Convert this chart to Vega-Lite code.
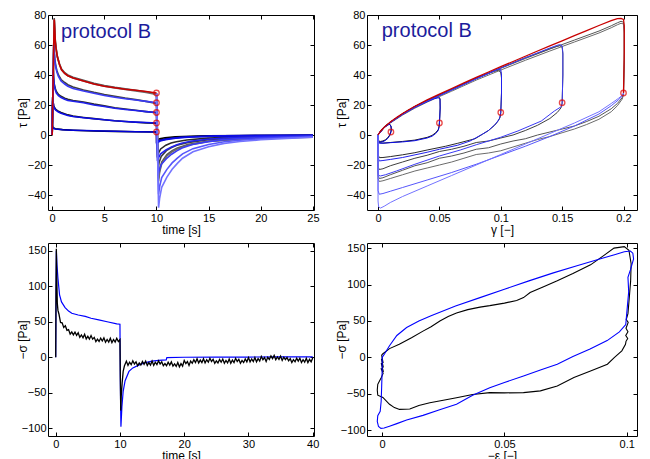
{
"$schema": "https://vega.github.io/schema/vega-lite/v6.json",
"background": "#ffffff",
"padding": {"left": 15, "top": 8, "right": 0, "bottom": 0},
"columns": 2,
"align": "each",
"spacing": {"row": 5, "column": 14},
"config": {
  "view": {"stroke": "#000000", "strokeWidth": 1},
  "axis": {"domain": false, "grid": false, "ticks": true, "tickSize": -4, "tickColor": "#000000", "tickWidth": 1, "labelPadding": 6, "labelFont": "Liberation Sans", "labelFontSize": 11, "labelColor": "#000000", "titleFont": "Liberation Sans", "titleFontSize": 12, "titleFontWeight": "normal", "titleColor": "#000000", "labelFlush": false, "labelOverlap": false},
  "axisX": {"minExtent": 13, "maxExtent": 13, "titlePadding": 1},
  "axisY": {"minExtent": 17, "maxExtent": 17, "titlePadding": 2},
  "point": {"filled": false, "shape": "circle"}
},
"datasets": {
"tl": [
{"s":"d0.01","x":0,"y":0},{"s":"d0.01","x":0.01,"y":6.5},{"s":"d0.01","x":0.05,"y":5.3},{"s":"d0.01","x":0.1,"y":4.8},{"s":"d0.01","x":0.3,"y":4.2},{"s":"d0.01","x":1,"y":3.6},{"s":"d0.01","x":2,"y":3.2},{"s":"d0.01","x":4,"y":2.7},{"s":"d0.01","x":6,"y":2.4},{"s":"d0.01","x":8,"y":2.2},{"s":"d0.01","x":10,"y":2},{"s":"d0.01","x":10.01,"y":-4},{"s":"d0.01","x":10.11,"y":-3.2},{"s":"d0.01","x":10.31,"y":-2.5},{"s":"d0.01","x":10.81,"y":-1.8},{"s":"d0.01","x":11.81,"y":-1.2},{"s":"d0.01","x":14.81,"y":-0.6},{"s":"d0.01","x":19.81,"y":-0.3},{"s":"d0.01","x":25,"y":-0.2},
{"s":"d0.05","x":0,"y":0},{"s":"d0.05","x":0.025,"y":13},{"s":"d0.05","x":0.05,"y":25.5},{"s":"d0.05","x":0.1,"y":21.5},{"s":"d0.05","x":0.15,"y":19.5},{"s":"d0.05","x":0.25,"y":18},{"s":"d0.05","x":0.35,"y":17},{"s":"d0.05","x":0.6,"y":15.8},{"s":"d0.05","x":0.85,"y":15},{"s":"d0.05","x":1.5,"y":13.4},{"s":"d0.05","x":2,"y":12.6},{"s":"d0.05","x":3,"y":11.7},{"s":"d0.05","x":4,"y":10.9},{"s":"d0.05","x":5,"y":10.2},{"s":"d0.05","x":6,"y":9.5},{"s":"d0.05","x":7,"y":9},{"s":"d0.05","x":8,"y":8.5},{"s":"d0.05","x":9,"y":8.1},{"s":"d0.05","x":10,"y":7.8},{"s":"d0.05","x":10.05,"y":-5.5},{"s":"d0.05","x":10.15,"y":-4.4},{"s":"d0.05","x":10.35,"y":-3.4},{"s":"d0.05","x":10.85,"y":-2.5},{"s":"d0.05","x":11.35,"y":-2},{"s":"d0.05","x":11.85,"y":-1.65},{"s":"d0.05","x":12.85,"y":-1.2},{"s":"d0.05","x":14.85,"y":-0.8},{"s":"d0.05","x":17.85,"y":-0.5},{"s":"d0.05","x":21.85,"y":-0.33},{"s":"d0.05","x":25,"y":-0.25},
{"s":"d0.1","x":0,"y":0},{"s":"d0.1","x":0.05,"y":22},{"s":"d0.1","x":0.1,"y":44},{"s":"d0.1","x":0.15,"y":38},{"s":"d0.1","x":0.2,"y":34},{"s":"d0.1","x":0.3,"y":31},{"s":"d0.1","x":0.4,"y":29},{"s":"d0.1","x":0.6,"y":27},{"s":"d0.1","x":0.85,"y":25.8},{"s":"d0.1","x":1.2,"y":24.5},{"s":"d0.1","x":1.5,"y":23.8},{"s":"d0.1","x":2,"y":23},{"s":"d0.1","x":3,"y":22},{"s":"d0.1","x":4,"y":20.6},{"s":"d0.1","x":5,"y":19.4},{"s":"d0.1","x":6,"y":18.2},{"s":"d0.1","x":7,"y":17.3},{"s":"d0.1","x":8,"y":16.5},{"s":"d0.1","x":9,"y":15.6},{"s":"d0.1","x":10,"y":14.8},{"s":"d0.1","x":10.05,"y":0},{"s":"d0.1","x":10.1,"y":-15},{"s":"d0.1","x":10.2,"y":-12},{"s":"d0.1","x":10.4,"y":-9.3},{"s":"d0.1","x":10.9,"y":-6.8},{"s":"d0.1","x":11.4,"y":-5.4},{"s":"d0.1","x":11.9,"y":-4.5},{"s":"d0.1","x":12.9,"y":-3.3},{"s":"d0.1","x":14.9,"y":-2.1},{"s":"d0.1","x":17.9,"y":-1.35},{"s":"d0.1","x":21.9,"y":-0.9},{"s":"d0.1","x":25,"y":-0.7},
{"s":"d0.15","x":0,"y":0},{"s":"d0.15","x":0.075,"y":30},{"s":"d0.15","x":0.15,"y":61},{"s":"d0.15","x":0.2,"y":56},{"s":"d0.15","x":0.25,"y":51},{"s":"d0.15","x":0.35,"y":46},{"s":"d0.15","x":0.45,"y":43},{"s":"d0.15","x":0.6,"y":40},{"s":"d0.15","x":0.85,"y":37},{"s":"d0.15","x":1.2,"y":35},{"s":"d0.15","x":1.5,"y":33.5},{"s":"d0.15","x":2,"y":32},{"s":"d0.15","x":3,"y":30},{"s":"d0.15","x":4,"y":28.4},{"s":"d0.15","x":5,"y":27},{"s":"d0.15","x":6,"y":25.8},{"s":"d0.15","x":7,"y":24.6},{"s":"d0.15","x":8,"y":23.6},{"s":"d0.15","x":9,"y":22.4},{"s":"d0.15","x":10,"y":21},{"s":"d0.15","x":10.075,"y":-1},{"s":"d0.15","x":10.15,"y":-23},{"s":"d0.15","x":10.25,"y":-18.4},{"s":"d0.15","x":10.45,"y":-14.3},{"s":"d0.15","x":10.95,"y":-10.4},{"s":"d0.15","x":11.45,"y":-8.3},{"s":"d0.15","x":11.95,"y":-6.9},{"s":"d0.15","x":12.95,"y":-5.1},{"s":"d0.15","x":14.95,"y":-3.2},{"s":"d0.15","x":17.95,"y":-2.1},{"s":"d0.15","x":21.95,"y":-1.4},{"s":"d0.15","x":25,"y":-1},
{"s":"d0.2","x":0,"y":0},{"s":"d0.2","x":0.1,"y":39},{"s":"d0.2","x":0.2,"y":78},{"s":"d0.2","x":0.25,"y":71},{"s":"d0.2","x":0.3,"y":63},{"s":"d0.2","x":0.4,"y":57},{"s":"d0.2","x":0.5,"y":52.5},{"s":"d0.2","x":0.7,"y":47.5},{"s":"d0.2","x":0.9,"y":44},{"s":"d0.2","x":1.2,"y":41.5},{"s":"d0.2","x":1.5,"y":40},{"s":"d0.2","x":2,"y":38.5},{"s":"d0.2","x":3,"y":36.5},{"s":"d0.2","x":4,"y":34.5},{"s":"d0.2","x":5,"y":33},{"s":"d0.2","x":6,"y":31.8},{"s":"d0.2","x":7,"y":30.8},{"s":"d0.2","x":8,"y":29.8},{"s":"d0.2","x":9,"y":28.8},{"s":"d0.2","x":10,"y":27.5},{"s":"d0.2","x":10.1,"y":0},{"s":"d0.2","x":10.2,"y":-29},{"s":"d0.2","x":10.3,"y":-23.2},{"s":"d0.2","x":10.5,"y":-18},{"s":"d0.2","x":11,"y":-13},{"s":"d0.2","x":11.5,"y":-10.4},{"s":"d0.2","x":12,"y":-8.7},{"s":"d0.2","x":13,"y":-6.4},{"s":"d0.2","x":15,"y":-4.1},{"s":"d0.2","x":18,"y":-2.6},{"s":"d0.2","x":22,"y":-1.7},{"s":"d0.2","x":25,"y":-1.3},
{"s":"d0.2b","x":0,"y":0},{"s":"d0.2b","x":0.1,"y":38.5},{"s":"d0.2b","x":0.2,"y":77},{"s":"d0.2b","x":0.25,"y":70},{"s":"d0.2b","x":0.3,"y":62.5},{"s":"d0.2b","x":0.4,"y":56.5},{"s":"d0.2b","x":0.5,"y":52},{"s":"d0.2b","x":0.7,"y":47},{"s":"d0.2b","x":0.9,"y":43.5},{"s":"d0.2b","x":1.2,"y":41},{"s":"d0.2b","x":1.5,"y":39.5},{"s":"d0.2b","x":2,"y":38},{"s":"d0.2b","x":3,"y":36},{"s":"d0.2b","x":4,"y":34},{"s":"d0.2b","x":5,"y":32.6},{"s":"d0.2b","x":6,"y":31.4},{"s":"d0.2b","x":7,"y":30.4},{"s":"d0.2b","x":8,"y":29.4},{"s":"d0.2b","x":9,"y":28.4},{"s":"d0.2b","x":10,"y":27},{"s":"d0.2b","x":10.1,"y":-1},{"s":"d0.2b","x":10.2,"y":-31},{"s":"d0.2b","x":10.3,"y":-24.8},{"s":"d0.2b","x":10.5,"y":-19.2},{"s":"d0.2b","x":11,"y":-14},{"s":"d0.2b","x":11.5,"y":-11.2},{"s":"d0.2b","x":12,"y":-9.3},{"s":"d0.2b","x":13,"y":-6.8},{"s":"d0.2b","x":15,"y":-4.3},{"s":"d0.2b","x":18,"y":-2.8},{"s":"d0.2b","x":22,"y":-1.9},{"s":"d0.2b","x":25,"y":-1.4},
{"s":"m0.01","x":0,"y":0},{"s":"m0.01","x":0.01,"y":6},{"s":"m0.01","x":0.05,"y":5},{"s":"m0.01","x":0.1,"y":4.5},{"s":"m0.01","x":0.3,"y":4},{"s":"m0.01","x":1,"y":3.5},{"s":"m0.01","x":2,"y":3.2},{"s":"m0.01","x":4,"y":2.8},{"s":"m0.01","x":6,"y":2.5},{"s":"m0.01","x":8,"y":2.2},{"s":"m0.01","x":10,"y":2},{"s":"m0.01","x":10.01,"y":-5},{"s":"m0.01","x":10.11,"y":-4.35},{"s":"m0.01","x":10.31,"y":-3.6},{"s":"m0.01","x":10.81,"y":-2.9},{"s":"m0.01","x":11.31,"y":-2.35},{"s":"m0.01","x":11.81,"y":-1.95},{"s":"m0.01","x":12.31,"y":-1.6},{"s":"m0.01","x":13.31,"y":-1.15},{"s":"m0.01","x":14.81,"y":-0.8},{"s":"m0.01","x":16.31,"y":-0.6},{"s":"m0.01","x":19.81,"y":-0.33},{"s":"m0.01","x":25,"y":-0.15},
{"s":"m0.05","x":0,"y":0},{"s":"m0.05","x":0.025,"y":13},{"s":"m0.05","x":0.05,"y":25},{"s":"m0.05","x":0.1,"y":21},{"s":"m0.05","x":0.15,"y":19},{"s":"m0.05","x":0.25,"y":17.5},{"s":"m0.05","x":0.35,"y":16.5},{"s":"m0.05","x":0.6,"y":15.3},{"s":"m0.05","x":0.85,"y":14.5},{"s":"m0.05","x":1.5,"y":13},{"s":"m0.05","x":2,"y":12.3},{"s":"m0.05","x":3,"y":11.5},{"s":"m0.05","x":4,"y":10.8},{"s":"m0.05","x":5,"y":10.2},{"s":"m0.05","x":6,"y":9.5},{"s":"m0.05","x":7,"y":9},{"s":"m0.05","x":8,"y":8.6},{"s":"m0.05","x":9,"y":8.3},{"s":"m0.05","x":10,"y":8},{"s":"m0.05","x":10.05,"y":-5.5},{"s":"m0.05","x":10.15,"y":-4.8},{"s":"m0.05","x":10.35,"y":-4},{"s":"m0.05","x":10.85,"y":-3.2},{"s":"m0.05","x":11.35,"y":-2.6},{"s":"m0.05","x":11.85,"y":-2.1},{"s":"m0.05","x":12.35,"y":-1.8},{"s":"m0.05","x":13.35,"y":-1.3},{"s":"m0.05","x":14.85,"y":-0.9},{"s":"m0.05","x":16.35,"y":-0.6},{"s":"m0.05","x":19.85,"y":-0.36},{"s":"m0.05","x":25,"y":-0.2},
{"s":"m0.1","x":0,"y":0},{"s":"m0.1","x":0.05,"y":22},{"s":"m0.1","x":0.1,"y":43},{"s":"m0.1","x":0.15,"y":37},{"s":"m0.1","x":0.2,"y":33},{"s":"m0.1","x":0.3,"y":30},{"s":"m0.1","x":0.4,"y":28},{"s":"m0.1","x":0.6,"y":26.2},{"s":"m0.1","x":0.85,"y":25},{"s":"m0.1","x":1.2,"y":23.8},{"s":"m0.1","x":1.5,"y":23},{"s":"m0.1","x":2,"y":22.5},{"s":"m0.1","x":3,"y":21.5},{"s":"m0.1","x":4,"y":20},{"s":"m0.1","x":5,"y":19},{"s":"m0.1","x":6,"y":17.8},{"s":"m0.1","x":7,"y":17},{"s":"m0.1","x":8,"y":16.3},{"s":"m0.1","x":9,"y":15.6},{"s":"m0.1","x":10,"y":15},{"s":"m0.1","x":10.05,"y":-1},{"s":"m0.1","x":10.1,"y":-17.3},{"s":"m0.1","x":10.2,"y":-15.1},{"s":"m0.1","x":10.4,"y":-12.5},{"s":"m0.1","x":10.9,"y":-10},{"s":"m0.1","x":11.4,"y":-8.1},{"s":"m0.1","x":11.9,"y":-6.7},{"s":"m0.1","x":12.4,"y":-5.5},{"s":"m0.1","x":13.4,"y":-4},{"s":"m0.1","x":14.9,"y":-2.8},{"s":"m0.1","x":16.4,"y":-2},{"s":"m0.1","x":17.9,"y":-1.5},{"s":"m0.1","x":19.9,"y":-1.1},{"s":"m0.1","x":21.9,"y":-0.9},{"s":"m0.1","x":25,"y":-0.5},
{"s":"m0.15","x":0,"y":0},{"s":"m0.15","x":0.075,"y":30},{"s":"m0.15","x":0.15,"y":60},{"s":"m0.15","x":0.2,"y":55},{"s":"m0.15","x":0.25,"y":50},{"s":"m0.15","x":0.35,"y":45},{"s":"m0.15","x":0.45,"y":42},{"s":"m0.15","x":0.6,"y":39},{"s":"m0.15","x":0.85,"y":36},{"s":"m0.15","x":1.2,"y":34},{"s":"m0.15","x":1.5,"y":32.5},{"s":"m0.15","x":2,"y":31},{"s":"m0.15","x":3,"y":29.3},{"s":"m0.15","x":4,"y":27.8},{"s":"m0.15","x":5,"y":26.3},{"s":"m0.15","x":6,"y":25.2},{"s":"m0.15","x":7,"y":24.2},{"s":"m0.15","x":8,"y":23.3},{"s":"m0.15","x":9,"y":22.4},{"s":"m0.15","x":10,"y":21.5},{"s":"m0.15","x":10.075,"y":-3},{"s":"m0.15","x":10.15,"y":-27.3},{"s":"m0.15","x":10.25,"y":-23.8},{"s":"m0.15","x":10.45,"y":-19.7},{"s":"m0.15","x":10.95,"y":-15.8},{"s":"m0.15","x":11.45,"y":-12.8},{"s":"m0.15","x":11.95,"y":-10.6},{"s":"m0.15","x":12.45,"y":-8.7},{"s":"m0.15","x":13.45,"y":-6.3},{"s":"m0.15","x":14.95,"y":-4.4},{"s":"m0.15","x":16.45,"y":-3.1},{"s":"m0.15","x":17.95,"y":-2.4},{"s":"m0.15","x":19.95,"y":-1.8},{"s":"m0.15","x":21.95,"y":-1.4},{"s":"m0.15","x":25,"y":-0.8},
{"s":"m0.2b","x":10,"y":28},{"s":"m0.2b","x":10.1,"y":-6},{"s":"m0.2b","x":10.2,"y":-39.5},{"s":"m0.2b","x":10.3,"y":-34.4},{"s":"m0.2b","x":10.5,"y":-28.4},{"s":"m0.2b","x":11,"y":-22.9},{"s":"m0.2b","x":11.5,"y":-18.6},{"s":"m0.2b","x":12,"y":-15.4},{"s":"m0.2b","x":12.5,"y":-12.6},{"s":"m0.2b","x":13.5,"y":-9.1},{"s":"m0.2b","x":15,"y":-6.3},{"s":"m0.2b","x":16.5,"y":-4.5},{"s":"m0.2b","x":18,"y":-3.5},{"s":"m0.2b","x":20,"y":-2.6},{"s":"m0.2b","x":22,"y":-2},{"s":"m0.2b","x":25,"y":-1.2},
{"s":"m0.2","x":10,"y":28},{"s":"m0.2","x":10.1,"y":-10},{"s":"m0.2","x":10.2,"y":-48.5},{"s":"m0.2","x":10.3,"y":-42.2},{"s":"m0.2","x":10.5,"y":-34.9},{"s":"m0.2","x":11,"y":-28.1},{"s":"m0.2","x":11.5,"y":-22.8},{"s":"m0.2","x":12,"y":-18.9},{"s":"m0.2","x":12.5,"y":-15.5},{"s":"m0.2","x":13.5,"y":-11.2},{"s":"m0.2","x":15,"y":-7.8},{"s":"m0.2","x":16.5,"y":-5.6},{"s":"m0.2","x":18,"y":-4.3},{"s":"m0.2","x":20,"y":-3.2},{"s":"m0.2","x":22,"y":-2.4},{"s":"m0.2","x":25,"y":-1.5},
{"s":"red","x":0,"y":0},{"s":"red","x":0.05,"y":20},{"s":"red","x":0.1,"y":40},{"s":"red","x":0.15,"y":60},{"s":"red","x":0.2,"y":77},{"s":"red","x":0.25,"y":70},{"s":"red","x":0.3,"y":62},{"s":"red","x":0.4,"y":56},{"s":"red","x":0.5,"y":52},{"s":"red","x":0.7,"y":47},{"s":"red","x":0.9,"y":43.5},{"s":"red","x":1.2,"y":41},{"s":"red","x":1.5,"y":39.5},{"s":"red","x":2,"y":38},{"s":"red","x":2.5,"y":37},{"s":"red","x":3,"y":36},{"s":"red","x":4,"y":34},{"s":"red","x":5,"y":32.5},{"s":"red","x":6,"y":31.5},{"s":"red","x":7,"y":30.5},{"s":"red","x":8,"y":29.8},{"s":"red","x":9,"y":29},{"s":"red","x":10,"y":28}
],
"tlc": [{"x":10,"y":2},{"x":10,"y":8},{"x":10,"y":15},{"x":10,"y":21.5},{"x":10,"y":28}],
"tr": [
{"s":"d0.01","x":0,"y":0},{"s":"d0.01","x":0.002,"y":2.8},{"s":"d0.01","x":0.005,"y":5.3},{"s":"d0.01","x":0.008,"y":7},{"s":"d0.01","x":0.0095,"y":7.2},{"s":"d0.01","x":0.0105,"y":6},{"s":"d0.01","x":0.0108,"y":4},{"s":"d0.01","x":0.0105,"y":2.2},{"s":"d0.01","x":0.0095,"y":0},{"s":"d0.01","x":0.008,"y":-1.8},{"s":"d0.01","x":0.006,"y":-3.2},{"s":"d0.01","x":0.004,"y":-4},{"s":"d0.01","x":0.002,"y":-4.3},{"s":"d0.01","x":0.0005,"y":-4},{"s":"d0.01","x":0,"y":-3},{"s":"d0.01","x":0,"y":0},
{"s":"d0.05","x":0,"y":0},{"s":"d0.05","x":0.005,"y":5.3},{"s":"d0.05","x":0.01,"y":8.6},{"s":"d0.05","x":0.02,"y":14.2},{"s":"d0.05","x":0.03,"y":19},{"s":"d0.05","x":0.04,"y":22.8},{"s":"d0.05","x":0.046,"y":25},{"s":"d0.05","x":0.049,"y":25.5},{"s":"d0.05","x":0.0505,"y":24.5},{"s":"d0.05","x":0.0506,"y":18},{"s":"d0.05","x":0.0503,"y":12},{"s":"d0.05","x":0.05,"y":8.2},{"s":"d0.05","x":0.0497,"y":5.5},{"s":"d0.05","x":0.049,"y":3.5},{"s":"d0.05","x":0.047,"y":1.5},{"s":"d0.05","x":0.044,"y":-0.3},{"s":"d0.05","x":0.04,"y":-1.6},{"s":"d0.05","x":0.03,"y":-3.4},{"s":"d0.05","x":0.02,"y":-4.3},{"s":"d0.05","x":0.01,"y":-5},{"s":"d0.05","x":0.004,"y":-5.4},{"s":"d0.05","x":0.001,"y":-5.2},{"s":"d0.05","x":0,"y":-4},{"s":"d0.05","x":0,"y":0},
{"s":"d0.1","x":0,"y":0},{"s":"d0.1","x":0.005,"y":5.3},{"s":"d0.1","x":0.01,"y":8.6},{"s":"d0.1","x":0.02,"y":14.2},{"s":"d0.1","x":0.03,"y":19},{"s":"d0.1","x":0.04,"y":23},{"s":"d0.1","x":0.05,"y":26.8},{"s":"d0.1","x":0.06,"y":30.5},{"s":"d0.1","x":0.07,"y":34.2},{"s":"d0.1","x":0.08,"y":37.8},{"s":"d0.1","x":0.09,"y":41.2},{"s":"d0.1","x":0.095,"y":42.5},{"s":"d0.1","x":0.098,"y":43},{"s":"d0.1","x":0.1,"y":42},{"s":"d0.1","x":0.1006,"y":38},{"s":"d0.1","x":0.1006,"y":28},{"s":"d0.1","x":0.1,"y":14.8},{"s":"d0.1","x":0.0995,"y":12},{"s":"d0.1","x":0.098,"y":9.5},{"s":"d0.1","x":0.095,"y":6.5},{"s":"d0.1","x":0.09,"y":3},{"s":"d0.1","x":0.085,"y":0.5},{"s":"d0.1","x":0.079,"y":-2.5},{"s":"d0.1","x":0.065,"y":-5.5},{"s":"d0.1","x":0.055,"y":-7.5},{"s":"d0.1","x":0.04,"y":-10},{"s":"d0.1","x":0.03,"y":-11.8},{"s":"d0.1","x":0.02,"y":-13.2},{"s":"d0.1","x":0.01,"y":-14.4},{"s":"d0.1","x":0.004,"y":-15},{"s":"d0.1","x":0.001,"y":-15.1},{"s":"d0.1","x":0,"y":-13},{"s":"d0.1","x":0,"y":0},
{"s":"d0.15","x":0,"y":0},{"s":"d0.15","x":0.005,"y":5.3},{"s":"d0.15","x":0.01,"y":8.6},{"s":"d0.15","x":0.02,"y":14.2},{"s":"d0.15","x":0.03,"y":19},{"s":"d0.15","x":0.04,"y":23},{"s":"d0.15","x":0.05,"y":26.8},{"s":"d0.15","x":0.06,"y":30.5},{"s":"d0.15","x":0.08,"y":37.8},{"s":"d0.15","x":0.1,"y":44.8},{"s":"d0.15","x":0.12,"y":51.5},{"s":"d0.15","x":0.14,"y":57.5},{"s":"d0.15","x":0.145,"y":59},{"s":"d0.15","x":0.148,"y":59.5},{"s":"d0.15","x":0.15,"y":58.5},{"s":"d0.15","x":0.1506,"y":54},{"s":"d0.15","x":0.1506,"y":40},{"s":"d0.15","x":0.15,"y":21},{"s":"d0.15","x":0.149,"y":18},{"s":"d0.15","x":0.146,"y":15},{"s":"d0.15","x":0.14,"y":11},{"s":"d0.15","x":0.13,"y":6.5},{"s":"d0.15","x":0.12,"y":3},{"s":"d0.15","x":0.11,"y":0},{"s":"d0.15","x":0.1,"y":-2},{"s":"d0.15","x":0.09,"y":-4},{"s":"d0.15","x":0.08,"y":-5},{"s":"d0.15","x":0.07,"y":-7.5},{"s":"d0.15","x":0.06,"y":-9.5},{"s":"d0.15","x":0.05,"y":-11},{"s":"d0.15","x":0.04,"y":-13.5},{"s":"d0.15","x":0.03,"y":-15.5},{"s":"d0.15","x":0.02,"y":-18},{"s":"d0.15","x":0.01,"y":-20.5},{"s":"d0.15","x":0.004,"y":-22.5},{"s":"d0.15","x":0.001,"y":-23},{"s":"d0.15","x":0,"y":-21},{"s":"d0.15","x":0,"y":0},
{"s":"d0.2","x":0,"y":0},{"s":"d0.2","x":0.005,"y":5},{"s":"d0.2","x":0.01,"y":8.2},{"s":"d0.2","x":0.02,"y":13.6},{"s":"d0.2","x":0.03,"y":18.3},{"s":"d0.2","x":0.04,"y":22.4},{"s":"d0.2","x":0.05,"y":26.2},{"s":"d0.2","x":0.06,"y":30},{"s":"d0.2","x":0.08,"y":37.6},{"s":"d0.2","x":0.1,"y":44.5},{"s":"d0.2","x":0.12,"y":51},{"s":"d0.2","x":0.14,"y":57.3},{"s":"d0.2","x":0.16,"y":63.3},{"s":"d0.2","x":0.18,"y":69.3},{"s":"d0.2","x":0.19,"y":72.8},{"s":"d0.2","x":0.195,"y":74.8},{"s":"d0.2","x":0.198,"y":75.8},{"s":"d0.2","x":0.2,"y":75.2},{"s":"d0.2","x":0.2006,"y":70},{"s":"d0.2","x":0.2006,"y":50},{"s":"d0.2","x":0.2,"y":27.5},{"s":"d0.2","x":0.199,"y":25},{"s":"d0.2","x":0.195,"y":21},{"s":"d0.2","x":0.19,"y":17.5},{"s":"d0.2","x":0.18,"y":12.5},{"s":"d0.2","x":0.17,"y":9},{"s":"d0.2","x":0.16,"y":6},{"s":"d0.2","x":0.15,"y":4},{"s":"d0.2","x":0.14,"y":2},{"s":"d0.2","x":0.13,"y":0},{"s":"d0.2","x":0.12,"y":-2.5},{"s":"d0.2","x":0.11,"y":-4},{"s":"d0.2","x":0.1,"y":-6},{"s":"d0.2","x":0.09,"y":-8.5},{"s":"d0.2","x":0.08,"y":-9.5},{"s":"d0.2","x":0.07,"y":-12},{"s":"d0.2","x":0.06,"y":-14},{"s":"d0.2","x":0.05,"y":-15.5},{"s":"d0.2","x":0.04,"y":-18.5},{"s":"d0.2","x":0.03,"y":-20.5},{"s":"d0.2","x":0.02,"y":-23.5},{"s":"d0.2","x":0.01,"y":-26.5},{"s":"d0.2","x":0.004,"y":-28.5},{"s":"d0.2","x":0.001,"y":-29},{"s":"d0.2","x":0,"y":-27},{"s":"d0.2","x":0,"y":0},
{"s":"d0.2b","x":0,"y":0},{"s":"d0.2b","x":0.005,"y":4.8},{"s":"d0.2b","x":0.01,"y":8},{"s":"d0.2b","x":0.02,"y":13.3},{"s":"d0.2b","x":0.03,"y":17.9},{"s":"d0.2b","x":0.04,"y":21.9},{"s":"d0.2b","x":0.05,"y":25.6},{"s":"d0.2b","x":0.06,"y":29.2},{"s":"d0.2b","x":0.08,"y":36.6},{"s":"d0.2b","x":0.1,"y":43.3},{"s":"d0.2b","x":0.12,"y":49.8},{"s":"d0.2b","x":0.14,"y":56},{"s":"d0.2b","x":0.16,"y":62},{"s":"d0.2b","x":0.18,"y":68},{"s":"d0.2b","x":0.19,"y":71.5},{"s":"d0.2b","x":0.195,"y":73.5},{"s":"d0.2b","x":0.198,"y":74.5},{"s":"d0.2b","x":0.2,"y":74},{"s":"d0.2b","x":0.2006,"y":68},{"s":"d0.2b","x":0.2006,"y":48},{"s":"d0.2b","x":0.2,"y":27},{"s":"d0.2b","x":0.199,"y":24},{"s":"d0.2b","x":0.195,"y":19.5},{"s":"d0.2b","x":0.19,"y":15.5},{"s":"d0.2b","x":0.18,"y":10.5},{"s":"d0.2b","x":0.17,"y":7},{"s":"d0.2b","x":0.16,"y":4},{"s":"d0.2b","x":0.15,"y":1.5},{"s":"d0.2b","x":0.14,"y":-1},{"s":"d0.2b","x":0.13,"y":-3},{"s":"d0.2b","x":0.12,"y":-5.5},{"s":"d0.2b","x":0.11,"y":-8},{"s":"d0.2b","x":0.1,"y":-10.5},{"s":"d0.2b","x":0.09,"y":-12},{"s":"d0.2b","x":0.08,"y":-13},{"s":"d0.2b","x":0.07,"y":-15.5},{"s":"d0.2b","x":0.06,"y":-18},{"s":"d0.2b","x":0.05,"y":-20},{"s":"d0.2b","x":0.04,"y":-22},{"s":"d0.2b","x":0.03,"y":-24},{"s":"d0.2b","x":0.02,"y":-26.5},{"s":"d0.2b","x":0.01,"y":-29},{"s":"d0.2b","x":0.004,"y":-30.5},{"s":"d0.2b","x":0.001,"y":-31},{"s":"d0.2b","x":0,"y":-29},{"s":"d0.2b","x":0,"y":0},
{"s":"m0.01","x":0,"y":0},{"s":"m0.01","x":0.002,"y":2.5},{"s":"m0.01","x":0.005,"y":5},{"s":"m0.01","x":0.008,"y":6.7},{"s":"m0.01","x":0.0095,"y":7},{"s":"m0.01","x":0.0105,"y":6},{"s":"m0.01","x":0.0108,"y":4},{"s":"m0.01","x":0.0105,"y":2},{"s":"m0.01","x":0.0095,"y":-0.3},{"s":"m0.01","x":0.008,"y":-2.2},{"s":"m0.01","x":0.006,"y":-3.6},{"s":"m0.01","x":0.004,"y":-4.4},{"s":"m0.01","x":0.002,"y":-4.8},{"s":"m0.01","x":0.0005,"y":-4.6},{"s":"m0.01","x":0,"y":-3.5},{"s":"m0.01","x":0,"y":0},
{"s":"m0.05","x":0,"y":0},{"s":"m0.05","x":0.005,"y":5},{"s":"m0.05","x":0.01,"y":8.3},{"s":"m0.05","x":0.02,"y":13.8},{"s":"m0.05","x":0.03,"y":18.5},{"s":"m0.05","x":0.04,"y":22.3},{"s":"m0.05","x":0.046,"y":24.3},{"s":"m0.05","x":0.049,"y":24.8},{"s":"m0.05","x":0.0505,"y":24},{"s":"m0.05","x":0.0506,"y":18},{"s":"m0.05","x":0.0503,"y":12},{"s":"m0.05","x":0.05,"y":8},{"s":"m0.05","x":0.0497,"y":5},{"s":"m0.05","x":0.049,"y":3},{"s":"m0.05","x":0.047,"y":1},{"s":"m0.05","x":0.044,"y":-0.8},{"s":"m0.05","x":0.04,"y":-2},{"s":"m0.05","x":0.03,"y":-3.8},{"s":"m0.05","x":0.02,"y":-4.6},{"s":"m0.05","x":0.01,"y":-5.1},{"s":"m0.05","x":0.004,"y":-5.5},{"s":"m0.05","x":0.001,"y":-5.4},{"s":"m0.05","x":0,"y":-4},{"s":"m0.05","x":0,"y":0},
{"s":"m0.1","x":0,"y":0},{"s":"m0.1","x":0.005,"y":5},{"s":"m0.1","x":0.01,"y":8.3},{"s":"m0.1","x":0.02,"y":13.8},{"s":"m0.1","x":0.03,"y":18.5},{"s":"m0.1","x":0.04,"y":22.5},{"s":"m0.1","x":0.05,"y":26.3},{"s":"m0.1","x":0.06,"y":30},{"s":"m0.1","x":0.07,"y":33.8},{"s":"m0.1","x":0.08,"y":37.5},{"s":"m0.1","x":0.09,"y":41},{"s":"m0.1","x":0.095,"y":43},{"s":"m0.1","x":0.098,"y":44},{"s":"m0.1","x":0.1,"y":43.5},{"s":"m0.1","x":0.1006,"y":40},{"s":"m0.1","x":0.1006,"y":28},{"s":"m0.1","x":0.1,"y":15},{"s":"m0.1","x":0.099,"y":11},{"s":"m0.1","x":0.096,"y":7.5},{"s":"m0.1","x":0.09,"y":3},{"s":"m0.1","x":0.085,"y":0.5},{"s":"m0.1","x":0.075,"y":-4},{"s":"m0.1","x":0.065,"y":-6.8},{"s":"m0.1","x":0.05,"y":-9.5},{"s":"m0.1","x":0.04,"y":-11.5},{"s":"m0.1","x":0.02,"y":-15},{"s":"m0.1","x":0.01,"y":-16.3},{"s":"m0.1","x":0.004,"y":-17},{"s":"m0.1","x":0.001,"y":-17.3},{"s":"m0.1","x":0,"y":-15},{"s":"m0.1","x":0,"y":0},
{"s":"m0.15","x":0,"y":0},{"s":"m0.15","x":0.005,"y":5},{"s":"m0.15","x":0.01,"y":8.3},{"s":"m0.15","x":0.02,"y":13.8},{"s":"m0.15","x":0.03,"y":18.5},{"s":"m0.15","x":0.04,"y":22.5},{"s":"m0.15","x":0.05,"y":26.3},{"s":"m0.15","x":0.06,"y":30},{"s":"m0.15","x":0.08,"y":37.5},{"s":"m0.15","x":0.1,"y":44.6},{"s":"m0.15","x":0.12,"y":51.5},{"s":"m0.15","x":0.14,"y":58},{"s":"m0.15","x":0.145,"y":59.5},{"s":"m0.15","x":0.148,"y":60.3},{"s":"m0.15","x":0.15,"y":59.5},{"s":"m0.15","x":0.1506,"y":55},{"s":"m0.15","x":0.1506,"y":40},{"s":"m0.15","x":0.15,"y":21.5},{"s":"m0.15","x":0.1495,"y":19},{"s":"m0.15","x":0.1437,"y":16},{"s":"m0.15","x":0.133,"y":9.3},{"s":"m0.15","x":0.114,"y":2.7},{"s":"m0.15","x":0.1,"y":-1.5},{"s":"m0.15","x":0.08,"y":-6.5},{"s":"m0.15","x":0.067,"y":-10},{"s":"m0.15","x":0.05,"y":-14},{"s":"m0.15","x":0.03,"y":-19.5},{"s":"m0.15","x":0.015,"y":-24},{"s":"m0.15","x":0.006,"y":-26.5},{"s":"m0.15","x":0.002,"y":-27.3},{"s":"m0.15","x":0.0005,"y":-27},{"s":"m0.15","x":0,"y":-25},{"s":"m0.15","x":0,"y":0},
{"s":"m0.2b","x":0.2,"y":28},{"s":"m0.2b","x":0.199,"y":26},{"s":"m0.2b","x":0.196,"y":23.5},{"s":"m0.2b","x":0.19,"y":19.5},{"s":"m0.2b","x":0.18,"y":14},{"s":"m0.2b","x":0.16,"y":6},{"s":"m0.2b","x":0.14,"y":-1},{"s":"m0.2b","x":0.12,"y":-7.5},{"s":"m0.2b","x":0.1,"y":-13.5},{"s":"m0.2b","x":0.08,"y":-19.5},{"s":"m0.2b","x":0.06,"y":-25},{"s":"m0.2b","x":0.04,"y":-30},{"s":"m0.2b","x":0.02,"y":-35},{"s":"m0.2b","x":0.01,"y":-37.5},{"s":"m0.2b","x":0.004,"y":-39},{"s":"m0.2b","x":0.001,"y":-39.5},{"s":"m0.2b","x":0,"y":-37},{"s":"m0.2b","x":0,"y":0},
{"s":"m0.2","x":0.2,"y":28},{"s":"m0.2","x":0.199,"y":26.5},{"s":"m0.2","x":0.196,"y":24.5},{"s":"m0.2","x":0.19,"y":21},{"s":"m0.2","x":0.18,"y":15.5},{"s":"m0.2","x":0.16,"y":8},{"s":"m0.2","x":0.14,"y":1},{"s":"m0.2","x":0.12,"y":-6},{"s":"m0.2","x":0.1,"y":-13},{"s":"m0.2","x":0.08,"y":-20},{"s":"m0.2","x":0.06,"y":-27},{"s":"m0.2","x":0.04,"y":-34},{"s":"m0.2","x":0.02,"y":-41},{"s":"m0.2","x":0.01,"y":-45},{"s":"m0.2","x":0.005,"y":-47.5},{"s":"m0.2","x":0.002,"y":-48.7},{"s":"m0.2","x":0.0005,"y":-48},{"s":"m0.2","x":0,"y":-44},{"s":"m0.2","x":0,"y":0},
{"s":"red","x":0,"y":0},{"s":"red","x":0.002,"y":2.5},{"s":"red","x":0.005,"y":5.2},{"s":"red","x":0.01,"y":8.6},{"s":"red","x":0.015,"y":11.6},{"s":"red","x":0.02,"y":14.3},{"s":"red","x":0.025,"y":16.8},{"s":"red","x":0.03,"y":19.2},{"s":"red","x":0.04,"y":23.4},{"s":"red","x":0.05,"y":27.3},{"s":"red","x":0.06,"y":31},{"s":"red","x":0.07,"y":34.7},{"s":"red","x":0.08,"y":38.4},{"s":"red","x":0.09,"y":42},{"s":"red","x":0.1,"y":45.6},{"s":"red","x":0.11,"y":49},{"s":"red","x":0.12,"y":52.5},{"s":"red","x":0.13,"y":56},{"s":"red","x":0.14,"y":59.4},{"s":"red","x":0.15,"y":62.8},{"s":"red","x":0.16,"y":66.2},{"s":"red","x":0.17,"y":69.6},{"s":"red","x":0.18,"y":73},{"s":"red","x":0.19,"y":76.2},{"s":"red","x":0.195,"y":77.6},{"s":"red","x":0.198,"y":77.8},{"s":"red","x":0.2,"y":77},{"s":"red","x":0.2006,"y":73},{"s":"red","x":0.2006,"y":55},{"s":"red","x":0.2003,"y":40},{"s":"red","x":0.2,"y":28}
],
"trc": [{"x":0.0105,"y":2},{"x":0.05,"y":8},{"x":0.1,"y":15},{"x":0.15,"y":21.5},{"x":0.2,"y":28}],
"bl": [
{"s":"b","x":0,"y":0},{"s":"b","x":0.05,"y":80},{"s":"b","x":0.1,"y":150},{"s":"b","x":0.2,"y":130},{"s":"b","x":0.35,"y":111},{"s":"b","x":0.6,"y":88},{"s":"b","x":0.9,"y":78},{"s":"b","x":1.46,"y":70},{"s":"b","x":2,"y":65},{"s":"b","x":2.5,"y":62},{"s":"b","x":3.5,"y":59.5},{"s":"b","x":4.6,"y":57.5},{"s":"b","x":5.5,"y":55},{"s":"b","x":6.7,"y":52.7},{"s":"b","x":8,"y":50},{"s":"b","x":9.5,"y":47},{"s":"b","x":10,"y":46.5},{"s":"b","x":10.05,"y":-30},{"s":"b","x":10.15,"y":-98},{"s":"b","x":10.3,"y":-70},{"s":"b","x":10.5,"y":-48},{"s":"b","x":10.8,"y":-33},{"s":"b","x":11.4,"y":-20},{"s":"b","x":12,"y":-15},{"s":"b","x":13,"y":-10.8},{"s":"b","x":14,"y":-7.5},{"s":"b","x":15,"y":-5.5},{"s":"b","x":16,"y":-4.5},{"s":"b","x":17.2,"y":-3.7},{"s":"b","x":17.3,"y":-0.5},{"s":"b","x":20,"y":0},{"s":"b","x":25,"y":0.3},{"s":"b","x":30,"y":0.3},{"s":"b","x":35,"y":0.5},{"s":"b","x":40,"y":0.5},
{"s":"k","x":0,"y":0},{"s":"k","x":0.05,"y":100},{"s":"k","x":0.1,"y":153},{"s":"k","x":0.15,"y":118},{"s":"k","x":0.25,"y":76},{"s":"k","x":0.35,"y":66},{"s":"k","x":0.5,"y":61},{"s":"k","x":0.75,"y":49},{"s":"k","x":1,"y":48.5},{"s":"k","x":1.25,"y":42},{"s":"k","x":1.5,"y":44.5},{"s":"k","x":1.75,"y":38},{"s":"k","x":2,"y":39},{"s":"k","x":2.25,"y":32.5},{"s":"k","x":2.5,"y":35.5},{"s":"k","x":2.75,"y":31.5},{"s":"k","x":3,"y":35.5},{"s":"k","x":3.25,"y":30.8},{"s":"k","x":3.5,"y":34.5},{"s":"k","x":3.75,"y":28},{"s":"k","x":4,"y":31.5},{"s":"k","x":4.25,"y":27.5},{"s":"k","x":4.5,"y":32.5},{"s":"k","x":4.75,"y":25.8},{"s":"k","x":5,"y":29.5},{"s":"k","x":5.25,"y":25.5},{"s":"k","x":5.5,"y":30.5},{"s":"k","x":5.75,"y":25.5},{"s":"k","x":6,"y":28},{"s":"k","x":6.25,"y":22},{"s":"k","x":6.5,"y":25.5},{"s":"k","x":6.75,"y":22.3},{"s":"k","x":7,"y":27},{"s":"k","x":7.25,"y":22.9},{"s":"k","x":7.5,"y":27.3},{"s":"k","x":7.75,"y":21.1},{"s":"k","x":8,"y":25},{"s":"k","x":8.25,"y":21.4},{"s":"k","x":8.5,"y":26.8},{"s":"k","x":8.75,"y":20.7},{"s":"k","x":9,"y":25},{"s":"k","x":9.25,"y":21.4},{"s":"k","x":9.5,"y":26.8},{"s":"k","x":9.75,"y":22.1},{"s":"k","x":10,"y":25},{"s":"k","x":10.05,"y":-20},{"s":"k","x":10.12,"y":-75},{"s":"k","x":10.2,"y":-55},{"s":"k","x":10.35,"y":-35},{"s":"k","x":10.5,"y":-20},{"s":"k","x":10.7,"y":-12},{"s":"k","x":11,"y":-5.5},{"s":"k","x":11.25,"y":-11.5},{"s":"k","x":11.5,"y":-7},{"s":"k","x":11.75,"y":-10.5},{"s":"k","x":12,"y":-5},{"s":"k","x":12.25,"y":-9.5},{"s":"k","x":12.5,"y":-6.5},{"s":"k","x":12.75,"y":-12},{"s":"k","x":13,"y":-8},{"s":"k","x":13.25,"y":-11},{"s":"k","x":13.5,"y":-6},{"s":"k","x":13.75,"y":-10},{"s":"k","x":14,"y":-5.5},{"s":"k","x":14.25,"y":-11.5},{"s":"k","x":14.5,"y":-7.5},{"s":"k","x":14.75,"y":-11},{"s":"k","x":15,"y":-5.5},{"s":"k","x":15.25,"y":-11.5},{"s":"k","x":15.5,"y":-7},{"s":"k","x":15.75,"y":-10.5},{"s":"k","x":16,"y":-5},{"s":"k","x":16.25,"y":-9.5},{"s":"k","x":16.5,"y":-6.5},{"s":"k","x":16.75,"y":-12},{"s":"k","x":17,"y":-9},{"s":"k","x":17.25,"y":-12},{"s":"k","x":17.5,"y":-7},{"s":"k","x":17.75,"y":-11},{"s":"k","x":18,"y":-6.5},{"s":"k","x":18.25,"y":-12.5},{"s":"k","x":18.5,"y":-9.5},{"s":"k","x":18.75,"y":-13},{"s":"k","x":19,"y":-7.5},{"s":"k","x":19.25,"y":-13.5},{"s":"k","x":19.5,"y":-9},{"s":"k","x":19.75,"y":-12.5},{"s":"k","x":20,"y":-4.5},{"s":"k","x":20.25,"y":-9},{"s":"k","x":20.5,"y":-6},{"s":"k","x":20.75,"y":-11.5},{"s":"k","x":21,"y":-5.5},{"s":"k","x":21.25,"y":-8.5},{"s":"k","x":21.5,"y":-3.5},{"s":"k","x":21.75,"y":-7.5},{"s":"k","x":22,"y":-2},{"s":"k","x":22.25,"y":-8},{"s":"k","x":22.5,"y":-4},{"s":"k","x":22.75,"y":-7.5},{"s":"k","x":23,"y":-2},{"s":"k","x":23.25,"y":-8},{"s":"k","x":23.5,"y":-3.5},{"s":"k","x":23.75,"y":-7},{"s":"k","x":24,"y":-1.5},{"s":"k","x":24.25,"y":-6},{"s":"k","x":24.5,"y":-3},{"s":"k","x":24.75,"y":-8.5},{"s":"k","x":25,"y":-5},{"s":"k","x":25.25,"y":-8},{"s":"k","x":25.5,"y":-3},{"s":"k","x":25.75,"y":-7},{"s":"k","x":26,"y":-2.5},{"s":"k","x":26.25,"y":-8.5},{"s":"k","x":26.5,"y":-4.5},{"s":"k","x":26.75,"y":-8},{"s":"k","x":27,"y":-2.5},{"s":"k","x":27.25,"y":-8.5},{"s":"k","x":27.5,"y":-4},{"s":"k","x":27.75,"y":-7.5},{"s":"k","x":28,"y":-1.5},{"s":"k","x":28.25,"y":-6},{"s":"k","x":28.5,"y":-3},{"s":"k","x":28.75,"y":-8.5},{"s":"k","x":29,"y":-4.5},{"s":"k","x":29.25,"y":-7.5},{"s":"k","x":29.5,"y":-2.5},{"s":"k","x":29.75,"y":-6.5},{"s":"k","x":30,"y":-0.5},{"s":"k","x":30.25,"y":-6.5},{"s":"k","x":30.5,"y":-2.5},{"s":"k","x":30.75,"y":-6},{"s":"k","x":31,"y":-0.5},{"s":"k","x":31.25,"y":-6.5},{"s":"k","x":31.5,"y":-2},{"s":"k","x":31.75,"y":-5.5},{"s":"k","x":32,"y":1},{"s":"k","x":32.25,"y":-3.5},{"s":"k","x":32.5,"y":-0.5},{"s":"k","x":32.75,"y":-6},{"s":"k","x":33,"y":0},{"s":"k","x":33.25,"y":-3},{"s":"k","x":33.5,"y":2},{"s":"k","x":33.75,"y":-2},{"s":"k","x":34,"y":2.5},{"s":"k","x":34.25,"y":-3.5},{"s":"k","x":34.5,"y":0.5},{"s":"k","x":34.75,"y":-3},{"s":"k","x":35,"y":1.5},{"s":"k","x":35.25,"y":-4.5},{"s":"k","x":35.5,"y":0},{"s":"k","x":35.75,"y":-3.5},{"s":"k","x":36,"y":-0.5},{"s":"k","x":36.25,"y":-5},{"s":"k","x":36.5,"y":-2},{"s":"k","x":36.75,"y":-7.5},{"s":"k","x":37,"y":-3.5},{"s":"k","x":37.25,"y":-6.5},{"s":"k","x":37.5,"y":-1.5},{"s":"k","x":37.75,"y":-5.5},{"s":"k","x":38,"y":-1.5},{"s":"k","x":38.25,"y":-7.5},{"s":"k","x":38.5,"y":-3.5},{"s":"k","x":38.75,"y":-7},{"s":"k","x":39,"y":-1.5},{"s":"k","x":39.25,"y":-7.5},{"s":"k","x":39.5,"y":-3},{"s":"k","x":39.75,"y":-6.5},{"s":"k","x":40,"y":-1}
],
"br": [
{"s":"k","x":0.0003,"y":5},{"s":"k","x":0.003,"y":12},{"s":"k","x":0.007,"y":18},{"s":"k","x":0.012,"y":27},{"s":"k","x":0.0167,"y":36},{"s":"k","x":0.02,"y":42},{"s":"k","x":0.0236,"y":50},{"s":"k","x":0.027,"y":56},{"s":"k","x":0.0304,"y":61},{"s":"k","x":0.035,"y":65.5},{"s":"k","x":0.04,"y":69},{"s":"k","x":0.044,"y":71},{"s":"k","x":0.05,"y":74.5},{"s":"k","x":0.055,"y":78},{"s":"k","x":0.0578,"y":82},{"s":"k","x":0.0605,"y":89},{"s":"k","x":0.066,"y":97},{"s":"k","x":0.0716,"y":105},{"s":"k","x":0.078,"y":115},{"s":"k","x":0.0852,"y":127},{"s":"k","x":0.0907,"y":140},{"s":"k","x":0.0948,"y":150},{"s":"k","x":0.099,"y":152},{"s":"k","x":0.1009,"y":147},{"s":"k","x":0.1018,"y":128.5},{"s":"k","x":0.1016,"y":105},{"s":"k","x":0.101,"y":80},{"s":"k","x":0.1005,"y":60},{"s":"k","x":0.0998,"y":52},{"s":"k","x":0.1006,"y":48},{"s":"k","x":0.0997,"y":40},{"s":"k","x":0.1005,"y":35},{"s":"k","x":0.0996,"y":30},{"s":"k","x":0.1004,"y":26},{"s":"k","x":0.0997,"y":22},{"s":"k","x":0.0995,"y":18},{"s":"k","x":0.098,"y":9},{"s":"k","x":0.095,"y":0},{"s":"k","x":0.0921,"y":-9.4},{"s":"k","x":0.0852,"y":-18.6},{"s":"k","x":0.0784,"y":-27.8},{"s":"k","x":0.0716,"y":-39.3},{"s":"k","x":0.0647,"y":-46},{"s":"k","x":0.0578,"y":-48.5},{"s":"k","x":0.05,"y":-48.8},{"s":"k","x":0.044,"y":-48.5},{"s":"k","x":0.037,"y":-51},{"s":"k","x":0.0304,"y":-55.4},{"s":"k","x":0.025,"y":-59},{"s":"k","x":0.0195,"y":-62.3},{"s":"k","x":0.015,"y":-66},{"s":"k","x":0.0113,"y":-71},{"s":"k","x":0.0071,"y":-71.5},{"s":"k","x":0.005,"y":-69},{"s":"k","x":0.003,"y":-64.5},{"s":"k","x":0.0003,"y":-55},{"s":"k","x":-0.0018,"y":-52},{"s":"k","x":-0.002,"y":-45},{"s":"k","x":-0.0018,"y":-37},{"s":"k","x":-0.0004,"y":-28},{"s":"k","x":0.0004,"y":-22},{"s":"k","x":-0.0005,"y":-15},{"s":"k","x":0.0005,"y":-20},{"s":"k","x":-0.0004,"y":-8},{"s":"k","x":0.0005,"y":-14},{"s":"k","x":-0.0003,"y":-2},{"s":"k","x":0.0004,"y":-8},{"s":"k","x":-0.0002,"y":3},{"s":"k","x":0.0003,"y":5},
{"s":"b","x":0,"y":0},{"s":"b","x":0.001,"y":5},{"s":"b","x":0.003,"y":16},{"s":"b","x":0.006,"y":30},{"s":"b","x":0.01,"y":41},{"s":"b","x":0.015,"y":50},{"s":"b","x":0.02,"y":57},{"s":"b","x":0.03,"y":70.5},{"s":"b","x":0.04,"y":82},{"s":"b","x":0.05,"y":93.5},{"s":"b","x":0.06,"y":105},{"s":"b","x":0.07,"y":116},{"s":"b","x":0.08,"y":126},{"s":"b","x":0.09,"y":136},{"s":"b","x":0.095,"y":141},{"s":"b","x":0.099,"y":145},{"s":"b","x":0.1015,"y":146},{"s":"b","x":0.1025,"y":143},{"s":"b","x":0.1028,"y":135},{"s":"b","x":0.1015,"y":120},{"s":"b","x":0.1005,"y":110},{"s":"b","x":0.1008,"y":90},{"s":"b","x":0.1,"y":60},{"s":"b","x":0.0996,"y":45},{"s":"b","x":0.097,"y":35},{"s":"b","x":0.092,"y":23},{"s":"b","x":0.085,"y":11.3},{"s":"b","x":0.078,"y":1},{"s":"b","x":0.0716,"y":-9.4},{"s":"b","x":0.065,"y":-17},{"s":"b","x":0.0578,"y":-25.5},{"s":"b","x":0.05,"y":-34.5},{"s":"b","x":0.044,"y":-41.6},{"s":"b","x":0.037,"y":-52},{"s":"b","x":0.0304,"y":-64.5},{"s":"b","x":0.0235,"y":-72},{"s":"b","x":0.0167,"y":-79.7},{"s":"b","x":0.01,"y":-86},{"s":"b","x":0.006,"y":-91},{"s":"b","x":0.003,"y":-94.5},{"s":"b","x":0.0008,"y":-97},{"s":"b","x":-0.0005,"y":-97.5},{"s":"b","x":-0.0015,"y":-95},{"s":"b","x":-0.002,"y":-88},{"s":"b","x":-0.0018,"y":-80},{"s":"b","x":-0.0008,"y":-74},{"s":"b","x":-0.0004,"y":-60},{"s":"b","x":-0.0002,"y":-40},{"s":"b","x":0,"y":-18},{"s":"b","x":0,"y":0}
]
},
"concat": [
{
 "width": 266, "height": 195,
 "layer": [
  {"layer": [
   {"data": {"name": "tl"}, "transform": [{"filter": {"field": "s", "oneOf": ["d0.01","d0.05","d0.1","d0.15","d0.2","d0.2b"]}}],
    "mark": {"type": "line", "strokeWidth": 1.6, "clip": true},
    "encoding": {
     "x": {"field": "x", "type": "quantitative", "title": "time [s]", "scale": {"domain": [-0.4, 25.1], "nice": false, "zero": false}, "axis": {"values": [0,5,10,15,20,25], "format": "~r", "labelOverlap": false}},
     "y": {"field": "y", "type": "quantitative", "title": "τ [Pa]", "scale": {"domain": [-50, 80], "nice": false, "zero": false}, "axis": {"values": [-40,-20,0,20,40,60,80], "format": "~r", "labelOverlap": false, "tickCount": 7}},
     "color": {"field": "s", "type": "nominal", "legend": null, "scale": {"domain": ["d0.01","d0.05","d0.1","d0.15","d0.2","d0.2b","m0.01","m0.05","m0.1","m0.15","m0.2b","m0.2"], "range": ["#000000","#151515","#2a2a2a","#3f3f3f","#555555","#6b6b6b","#0000d8","#0c0ce6","#2020ee","#3a3af5","#5656fb","#7373ff"]}},
     "order": {"value": null}
    }},
   {"data": {"name": "tl"}, "transform": [{"filter": {"field": "s", "oneOf": ["m0.01","m0.05","m0.1","m0.15","m0.2b","m0.2"]}}],
    "mark": {"type": "line", "strokeWidth": 1.6, "clip": true},
    "encoding": {
     "x": {"field": "x", "type": "quantitative", "title": "time [s]"},
     "y": {"field": "y", "type": "quantitative", "title": "τ [Pa]"},
     "color": {"field": "s", "type": "nominal", "legend": null, "scale": {"domain": ["d0.01","d0.05","d0.1","d0.15","d0.2","d0.2b","m0.01","m0.05","m0.1","m0.15","m0.2b","m0.2"], "range": ["#000000","#151515","#2a2a2a","#3f3f3f","#555555","#6b6b6b","#0000d8","#0c0ce6","#2020ee","#3a3af5","#5656fb","#7373ff"]}},
     "order": {"value": null}
    }},
   {"data": {"name": "tl"}, "transform": [{"filter": {"field": "s", "equal": "red"}}],
    "mark": {"type": "line", "strokeWidth": 1.6, "color": "#c80000", "clip": true},
    "encoding": {
     "x": {"field": "x", "type": "quantitative", "title": "time [s]"},
     "y": {"field": "y", "type": "quantitative", "title": "τ [Pa]"},
     "order": {"value": null}
    }},
   {"data": {"name": "tlc"},
    "mark": {"type": "point", "color": "#e00000", "strokeWidth": 1.3, "size": 30},
    "encoding": {
     "x": {"field": "x", "type": "quantitative", "title": "time [s]"},
     "y": {"field": "y", "type": "quantitative", "title": "τ [Pa]"}
    }},
   {"data": {"values": [{"label": "protocol B"}]},
    "mark": {"type": "text", "align": "left", "baseline": "alphabetic", "font": "Liberation Sans", "fontSize": 20, "color": "#1c1c9c"},
    "encoding": {
     "x": {"datum": 0.85, "type": "quantitative", "title": "time [s]"},
     "y": {"datum": 65, "type": "quantitative", "title": "τ [Pa]"},
     "text": {"field": "label"}
    }}
  ]},
  {"data": {"name": "tlc"}, "mark": {"type": "point", "opacity": 0},
   "encoding": {
    "x": {"field": "x", "type": "quantitative", "scale": {"domain": [-0.4, 25.1], "nice": false, "zero": false}, "axis": {"orient": "top", "labels": false, "title": null, "values": [0,5,10,15,20,25], "minExtent": 0, "maxExtent": 0}},
    "y": {"field": "y", "type": "quantitative", "scale": {"domain": [-50, 80], "nice": false, "zero": false}, "axis": {"orient": "right", "labels": false, "title": null, "values": [-40,-20,0,20,40,60,80], "minExtent": 0, "maxExtent": 0}}
   }}
 ],
 "resolve": {"axis": {"x": "independent", "y": "independent"}}
},
{
 "width": 270, "height": 195,
 "layer": [
  {"layer": [
   {"data": {"name": "tr"}, "transform": [{"filter": {"field": "s", "oneOf": ["d0.01","d0.05","d0.1","d0.15","d0.2","d0.2b"]}}],
    "mark": {"type": "line", "strokeWidth": 1, "clip": true},
    "encoding": {
     "x": {"field": "x", "type": "quantitative", "title": "γ [−]", "scale": {"domain": [-0.009, 0.211], "nice": false, "zero": false}, "axis": {"values": [0,0.05,0.1,0.15,0.2], "format": "~r", "labelOverlap": false}},
     "y": {"field": "y", "type": "quantitative", "title": "τ [Pa]", "scale": {"domain": [-50, 80], "nice": false, "zero": false}, "axis": {"values": [-40,-20,0,20,40,60,80], "format": "~r", "labelOverlap": false, "tickCount": 7}},
     "color": {"field": "s", "type": "nominal", "legend": null, "scale": {"domain": ["d0.01","d0.05","d0.1","d0.15","d0.2","d0.2b","m0.01","m0.05","m0.1","m0.15","m0.2b","m0.2"], "range": ["#000000","#151515","#2a2a2a","#3f3f3f","#555555","#6b6b6b","#0000d8","#0c0ce6","#2020ee","#3a3af5","#5656fb","#7373ff"]}},
     "order": {"value": null}
    }},
   {"data": {"name": "tr"}, "transform": [{"filter": {"field": "s", "oneOf": ["m0.01","m0.05","m0.1","m0.15","m0.2b","m0.2"]}}],
    "mark": {"type": "line", "strokeWidth": 1, "clip": true},
    "encoding": {
     "x": {"field": "x", "type": "quantitative", "title": "γ [−]"},
     "y": {"field": "y", "type": "quantitative", "title": "τ [Pa]"},
     "color": {"field": "s", "type": "nominal", "legend": null, "scale": {"domain": ["d0.01","d0.05","d0.1","d0.15","d0.2","d0.2b","m0.01","m0.05","m0.1","m0.15","m0.2b","m0.2"], "range": ["#000000","#151515","#2a2a2a","#3f3f3f","#555555","#6b6b6b","#0000d8","#0c0ce6","#2020ee","#3a3af5","#5656fb","#7373ff"]}},
     "order": {"value": null}
    }},
   {"data": {"name": "tr"}, "transform": [{"filter": {"field": "s", "equal": "red"}}],
    "mark": {"type": "line", "strokeWidth": 1.3, "color": "#c80000", "clip": true},
    "encoding": {
     "x": {"field": "x", "type": "quantitative", "title": "γ [−]"},
     "y": {"field": "y", "type": "quantitative", "title": "τ [Pa]"},
     "order": {"value": null}
    }},
   {"data": {"name": "trc"},
    "mark": {"type": "point", "color": "#e00000", "strokeWidth": 1.3, "size": 30},
    "encoding": {
     "x": {"field": "x", "type": "quantitative", "title": "γ [−]"},
     "y": {"field": "y", "type": "quantitative", "title": "τ [Pa]"}
    }},
   {"data": {"values": [{"label": "protocol B"}]},
    "mark": {"type": "text", "align": "left", "baseline": "alphabetic", "font": "Liberation Sans", "fontSize": 20, "color": "#1c1c9c"},
    "encoding": {
     "x": {"datum": 0.003, "type": "quantitative", "title": "γ [−]"},
     "y": {"datum": 65.3, "type": "quantitative", "title": "τ [Pa]"},
     "text": {"field": "label"}
    }}
  ]},
  {"data": {"name": "trc"}, "mark": {"type": "point", "opacity": 0},
   "encoding": {
    "x": {"field": "x", "type": "quantitative", "scale": {"domain": [-0.009, 0.211], "nice": false, "zero": false}, "axis": {"orient": "top", "labels": false, "title": null, "values": [0,0.05,0.1,0.15,0.2], "minExtent": 0, "maxExtent": 0}},
    "y": {"field": "y", "type": "quantitative", "scale": {"domain": [-50, 80], "nice": false, "zero": false}, "axis": {"orient": "right", "labels": false, "title": null, "values": [-40,-20,0,20,40,60,80], "minExtent": 0, "maxExtent": 0}}
   }}
 ],
 "resolve": {"axis": {"x": "independent", "y": "independent"}}
},
{
 "width": 266, "height": 193,
 "data": {"name": "bl"},
 "layer": [
  {"layer": [
   {"transform": [{"filter": {"field": "s", "equal": "b"}}],
    "mark": {"type": "line", "strokeWidth": 1.2, "color": "#0000ff", "clip": true},
    "encoding": {
     "x": {"field": "x", "type": "quantitative", "title": "time [s]", "scale": {"domain": [-1.2, 40.2], "nice": false, "zero": false}, "axis": {"values": [0,10,20,30,40], "format": "~r", "labelOverlap": false}},
     "y": {"field": "y", "type": "quantitative", "title": "−σ [Pa]", "scale": {"domain": [-111, 161], "nice": false, "zero": false}, "axis": {"values": [-100,-50,0,50,100,150], "format": "~r", "labelOverlap": false, "tickCount": 6}},
     "order": {"value": null}
    }},
   {"transform": [{"filter": {"field": "s", "equal": "k"}}],
    "mark": {"type": "line", "strokeWidth": 1.3, "color": "#000000", "clip": true},
    "encoding": {
     "x": {"field": "x", "type": "quantitative", "title": "time [s]"},
     "y": {"field": "y", "type": "quantitative", "title": "−σ [Pa]"},
     "order": {"value": null}
    }}
  ]},
  {"mark": {"type": "point", "opacity": 0},
   "encoding": {
    "x": {"field": "x", "type": "quantitative", "scale": {"domain": [-1.2, 40.2], "nice": false, "zero": false}, "axis": {"orient": "top", "labels": false, "title": null, "values": [0,10,20,30,40], "minExtent": 0, "maxExtent": 0}},
    "y": {"field": "y", "type": "quantitative", "scale": {"domain": [-111, 161], "nice": false, "zero": false}, "axis": {"orient": "right", "labels": false, "title": null, "values": [-100,-50,0,50,100,150], "minExtent": 0, "maxExtent": 0}}
   }}
 ],
 "resolve": {"axis": {"x": "independent", "y": "independent"}}
},
{
 "width": 270, "height": 193,
 "data": {"name": "br"},
 "layer": [
  {"layer": [
   {"transform": [{"filter": {"field": "s", "equal": "k"}}],
    "mark": {"type": "line", "strokeWidth": 1.1, "color": "#000000", "clip": true},
    "encoding": {
     "x": {"field": "x", "type": "quantitative", "title": "−ε [−]", "scale": {"domain": [-0.0062, 0.1042], "nice": false, "zero": false}, "axis": {"values": [0,0.05,0.1], "format": "~r", "labelOverlap": false}},
     "y": {"field": "y", "type": "quantitative", "title": "−σ [Pa]", "scale": {"domain": [-108, 157], "nice": false, "zero": false}, "axis": {"values": [-100,-50,0,50,100,150], "format": "~r", "labelOverlap": false, "tickCount": 6}},
     "order": {"value": null}
    }},
   {"transform": [{"filter": {"field": "s", "equal": "b"}}],
    "mark": {"type": "line", "strokeWidth": 1.1, "color": "#0000ff", "clip": true},
    "encoding": {
     "x": {"field": "x", "type": "quantitative", "title": "−ε [−]"},
     "y": {"field": "y", "type": "quantitative", "title": "−σ [Pa]"},
     "order": {"value": null}
    }}
  ]},
  {"mark": {"type": "point", "opacity": 0},
   "encoding": {
    "x": {"field": "x", "type": "quantitative", "scale": {"domain": [-0.0062, 0.1042], "nice": false, "zero": false}, "axis": {"orient": "top", "labels": false, "title": null, "values": [0,0.05,0.1], "minExtent": 0, "maxExtent": 0}},
    "y": {"field": "y", "type": "quantitative", "scale": {"domain": [-108, 157], "nice": false, "zero": false}, "axis": {"orient": "right", "labels": false, "title": null, "values": [-100,-50,0,50,100,150], "minExtent": 0, "maxExtent": 0}}
   }}
 ],
 "resolve": {"axis": {"x": "independent", "y": "independent"}}
}
]
}
